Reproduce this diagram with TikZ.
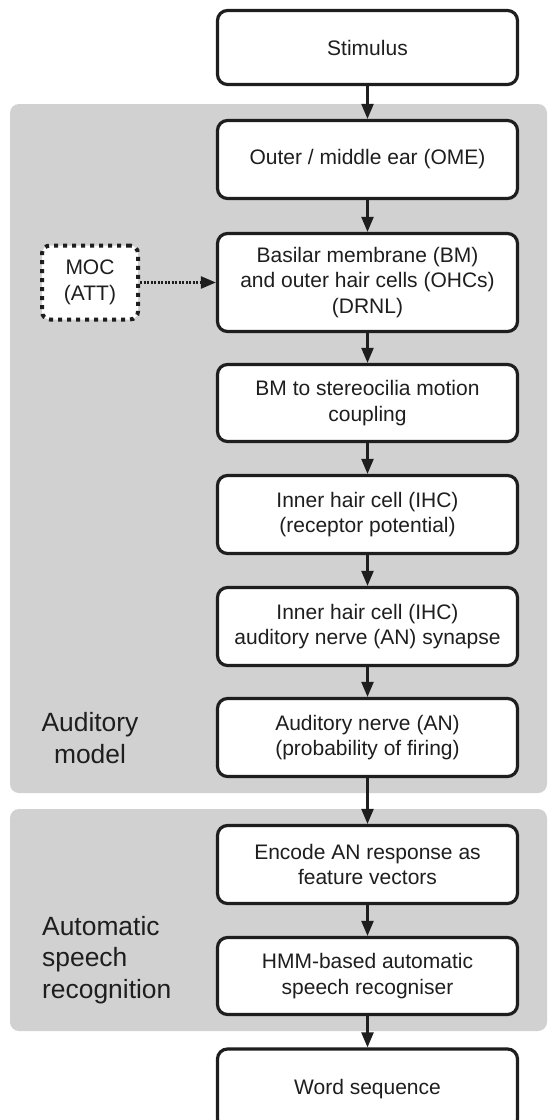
\documentclass[tikz,border=0pt]{standalone}
\usepackage{fontspec}
\setmainfont{Liberation Sans}
\usetikzlibrary{arrows.meta}
\definecolor{panelgray}{RGB}{209,209,209}
\definecolor{ink}{RGB}{30,30,30}
\begin{document}
\begin{tikzpicture}[x=1pt,y=-1pt,
  box/.style={draw=ink, line width=3.2pt, rounded corners=10pt, fill=white,
    minimum width=300pt, inner sep=0pt, align=center, text=ink,
    font=\fontsize{21}{25.5}\selectfont},
  mocbox/.style={draw=ink, line width=4pt, dash pattern=on 4pt off 5pt,
    rounded corners=8pt, fill=white, minimum width=96pt, minimum height=74pt,
    inner sep=0pt, align=center, text=ink, font=\fontsize{21}{25.5}\selectfont},
  flow/.style={draw=ink, line width=2.2pt, -{Triangle[width=12pt,length=15pt]}},
  dotflow/.style={draw=ink, line width=2.4pt, dash pattern=on 2pt off 1.5pt,
    -{Triangle[width=12pt,length=15pt]}},
  side/.style={text=ink, font=\fontsize{26.4}{31.5}\selectfont, inner sep=0pt}]
\useasboundingbox (0,0) rectangle (547,1120);
% panels
\fill[panelgray, rounded corners=9pt] (10,104) rectangle (547,793);
\fill[panelgray, rounded corners=9pt] (10,809) rectangle (547,1031);
% boxes
\node[box, minimum height=74pt] (stim) at (367.5,47.5) {Stimulus};
\node[box, minimum height=78pt] (ome) at (367.5,159.5) {Outer / middle ear (OME)};
\node[box, minimum height=98pt] (bm) at (367.5,282.5) {Basilar membrane (BM)\\and outer hair cells (OHCs)\\(DRNL)};
\node[box, minimum height=77pt] (coup) at (367.5,403) {BM to stereocilia motion\\coupling};
\node[box, minimum height=78pt] (ihc) at (367.5,514.5) {Inner hair cell (IHC)\\(receptor potential)};
\node[box, minimum height=78pt] (syn) at (367.5,626.5) {Inner hair cell (IHC)\\auditory nerve (AN) synapse};
\node[box, minimum height=78pt] (an) at (367.5,737.5) {Auditory nerve (AN)\\(probability of firing)};
\node[box, minimum height=78pt] (enc) at (367.5,864.5) {Encode AN response as\\feature vectors};
\node[box, minimum height=77pt] (hmm) at (367.5,976) {HMM-based automatic\\speech recogniser};
\node[box, minimum height=80pt] (word) at (367.5,1089) {Word sequence};
\node[mocbox] (moc) at (90,282.5) {MOC\\(ATT)};
% labels
\node[side, align=center] (lab1) at (90,738) {Auditory\\model};
\node[side, align=left, anchor=west] (lab2) at (42,960) {Automatic\\speech\\recognition};
% connectors
\draw[flow] (stim) -- (ome);
\draw[flow] (ome) -- (bm);
\draw[flow] (bm) -- (coup);
\draw[flow] (coup) -- (ihc);
\draw[flow] (ihc) -- (syn);
\draw[flow] (syn) -- (an);
\draw[flow] (an) -- (enc);
\draw[flow] (enc) -- (hmm);
\draw[flow] (hmm) -- (word);
\draw[dotflow] (moc.east) -- (bm.west);
\end{tikzpicture}
\end{document}
